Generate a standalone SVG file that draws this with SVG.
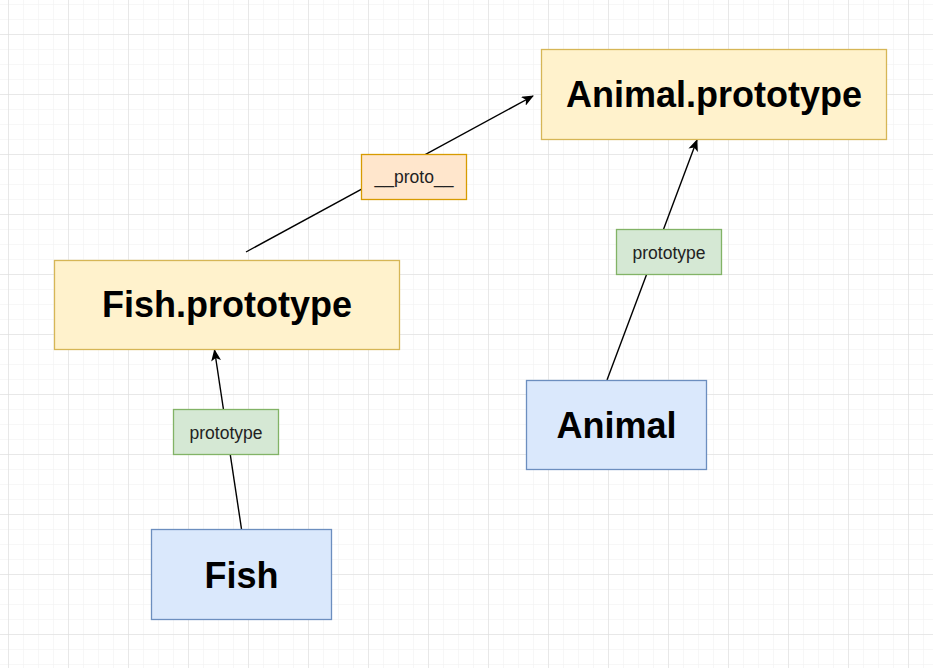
<svg xmlns="http://www.w3.org/2000/svg" width="933" height="668" viewBox="0 0 933 668">
  <defs>
    <pattern id="minor" x="8" y="4" width="15" height="15" patternUnits="userSpaceOnUse">
      <path d="M0 0H15M0 0V15" fill="none" stroke="#f0f0f0" stroke-width="1"/>
    </pattern>
    <pattern id="major" x="8" y="34" width="60" height="60" patternUnits="userSpaceOnUse">
      <path d="M0 0H60M0 0V60" fill="none" stroke="#dadada" stroke-width="1"/>
    </pattern>
    <marker id="arrow" viewBox="0 0 12 10" refX="11" refY="5" markerWidth="12" markerHeight="10" markerUnits="userSpaceOnUse" orient="auto">
      <path d="M0 0L12 5L0 10L3 5Z" fill="#000"/>
    </marker>
  </defs>
  <style>
    .node rect { stroke-width: 1.3; }
    .yellow { fill: #fff2cc; stroke: #d6b656; }
    .blue { fill: #dae8fc; stroke: #6c8ebf; }
    .green { fill: #d5e8d4; stroke: #82b366; }
    .orange { fill: #ffe6cc; stroke: #d79b00; }
    .big { font-family: "Liberation Sans", Arial, sans-serif; font-weight: bold; font-size: 36px; fill: #000; text-anchor: middle; }
    .small { font-family: "Liberation Sans", Arial, sans-serif; font-size: 17.5px; fill: #222; text-anchor: middle; }
    .edge { stroke: #000; stroke-width: 1.4; fill: none; marker-end: url(#arrow); }
  </style>
  <rect width="933" height="668" fill="#ffffff"/>
  <rect width="933" height="668" fill="url(#minor)"/>
  <rect width="933" height="668" fill="url(#major)"/>

  <g id="connectors">
    <path class="edge" d="M241.5 529L214.5 350"/>
    <path class="edge" d="M607 380L697 140"/>
    <path class="edge" d="M246 252L533 96"/>
  </g>

  <g id="animal-prototype" class="node">
    <rect class="yellow" x="541.5" y="49.5" width="345" height="90"/>
    <text class="big" x="714" y="107">Animal.prototype</text>
  </g>
  <g id="fish-prototype" class="node">
    <rect class="yellow" x="54.5" y="260.5" width="345" height="89"/>
    <text class="big" x="227" y="317">Fish.prototype</text>
  </g>
  <g id="fish" class="node">
    <rect class="blue" x="151.5" y="529.5" width="180" height="90"/>
    <text class="big" x="241.5" y="588">Fish</text>
  </g>
  <g id="animal" class="node">
    <rect class="blue" x="526.5" y="380.5" width="180" height="89"/>
    <text class="big" x="616.5" y="438">Animal</text>
  </g>
  <g id="label-proto" class="node">
    <rect class="orange" x="361.5" y="154.5" width="105" height="45"/>
    <text class="small" x="414" y="183">__proto__</text>
  </g>
  <g id="label-animal-prototype" class="node">
    <rect class="green" x="616.5" y="229.5" width="105" height="45"/>
    <text class="small" x="669" y="258.5">prototype</text>
  </g>
  <g id="label-fish-prototype" class="node">
    <rect class="green" x="173.5" y="409.5" width="105" height="45"/>
    <text class="small" x="226" y="438.5">prototype</text>
  </g>
</svg>
